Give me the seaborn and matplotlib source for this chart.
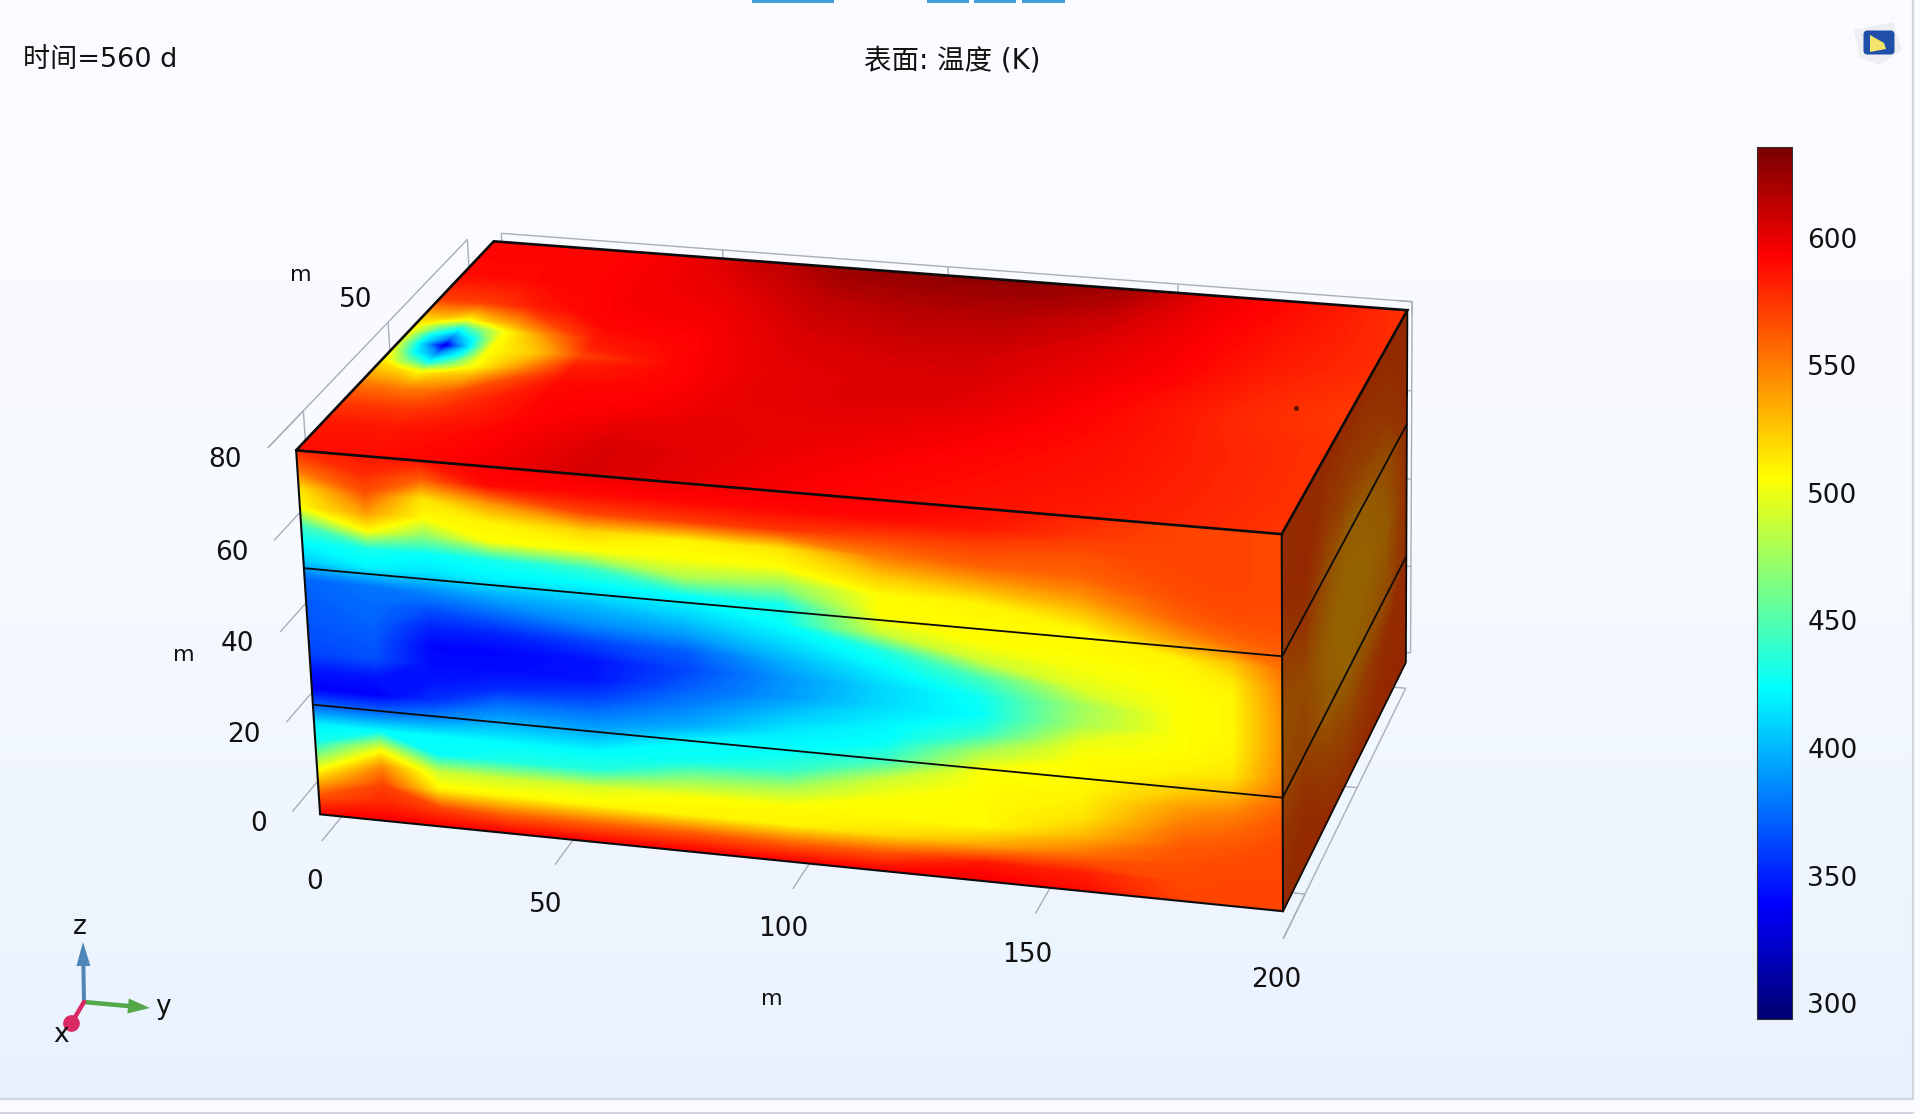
import numpy as np
import pandas as pd
import matplotlib
matplotlib.use("Agg")
import matplotlib.pyplot as plt
from matplotlib.colors import LinearSegmentedColormap, Normalize
from matplotlib.patches import FancyBboxPatch, Polygon, Rectangle, FancyArrow
import seaborn as sns

# ---------- data ----------
T_MIN, T_MAX = 293.8, 635.5
cbar_ticks = [300, 350, 400, 450, 500, 550, 600]
cmap_values = [293.8, 339, 423.5, 506, 593, 635.5]
cmap_colors = ["#000070", "#0000ff", "#00ffff", "#ffff00", "#ff0000", "#780000"]

box_x, box_y, box_z = 120.0, 200.0, 80.0
layer_z = [24.5, 54.5]
y_ticks = [0, 50, 100, 150, 200]
z_ticks = [0, 20, 40, 60, 80]
x_ticks = [0, 50, 100]

# front face (x = box_x): one list per y, values from z=80 down to z=0
front_y = [0, 14, 26, 40, 60, 80, 100, 120, 140, 160, 180, 190, 200]
front_z = [80, 76, 72, 68, 64, 60, 56, 52, 48, 44, 40, 36, 32, 28, 24, 20, 16, 12, 8, 4, 0]
front_cols = [
    [578, 555, 515, 507, 445, 423, 405, 372, 370, 368, 365, 362, 345, 338, 375, 420, 430, 480, 525, 565, 592],
    [585, 578, 565, 540, 507, 430, 420, 378, 375, 372, 368, 365, 345, 338, 375, 423, 500, 545, 570, 580, 595],
    [585, 560, 515, 507, 470, 425, 415, 385, 365, 350, 340, 342, 345, 355, 385, 423, 425, 490, 512, 570, 594],
    [594, 590, 540, 510, 505, 430, 420, 395, 372, 350, 340, 342, 352, 378, 400, 423, 432, 490, 510, 560, 594],
    [597, 590, 570, 520, 505, 440, 420, 400, 385, 360, 345, 345, 360, 380, 398, 423, 435, 495, 510, 560, 594],
    [597, 590, 572, 510, 505, 480, 425, 410, 392, 370, 362, 370, 382, 395, 423, 428, 470, 505, 510, 563, 594],
    [595, 590, 575, 515, 505, 470, 430, 425, 412, 398, 388, 390, 405, 418, 425, 440, 480, 507, 510, 560, 594],
    [594, 590, 570, 550, 525, 507, 507, 490, 432, 420, 410, 412, 420, 425, 445, 490, 505, 507, 518, 565, 594],
    [590, 585, 570, 560, 535, 510, 507, 507, 490, 445, 428, 425, 440, 480, 505, 507, 507, 507, 535, 585, 596],
    [580, 575, 565, 560, 545, 525, 507, 507, 503, 495, 475, 478, 500, 507, 507, 510, 515, 530, 555, 582, 590],
    [570, 570, 570, 568, 565, 558, 540, 510, 507, 506, 506, 506, 506, 510, 522, 540, 552, 562, 566, 568, 570],
    [570, 570, 570, 570, 568, 565, 555, 525, 512, 508, 508, 508, 510, 515, 530, 548, 558, 565, 568, 570, 570],
    [568, 568, 568, 568, 567, 566, 562, 555, 548, 545, 543, 543, 545, 548, 555, 562, 566, 568, 569, 570, 570],
]

# top face (z = box_z): one list per x, values along top_y
top_x = [0, 20, 35, 45, 50, 55, 60, 65, 70, 75, 85, 95, 105, 120]
top_y = [0, 5, 10, 15, 20, 30, 40, 60, 80, 100, 120, 140, 160, 180, 200]
top_rows = [
    [592, 592, 592, 592, 592, 592, 595, 610, 625, 628, 628, 622, 598, 588, 576],
    [590, 590, 590, 590, 592, 592, 595, 600, 612, 616, 616, 608, 595, 586, 578],
    [572, 572, 572, 575, 582, 590, 594, 595, 606, 610, 610, 602, 594, 584, 578],
    [525, 525, 505, 525, 538, 572, 590, 593, 603, 606, 606, 600, 593, 582, 576],
    [510, 470, 430, 470, 505, 550, 586, 592, 602, 605, 606, 599, 592, 581, 575],
    [505, 425, 385, 430, 505, 535, 582, 592, 601, 604, 605, 598, 590, 580, 574],
    [495, 410, 325, 410, 505, 525, 570, 591, 600, 603, 604, 597, 589, 579, 574],
    [505, 425, 385, 430, 505, 535, 582, 591, 600, 603, 603, 596, 588, 579, 574],
    [512, 470, 430, 470, 505, 550, 586, 591, 600, 603, 602, 595, 588, 579, 575],
    [525, 520, 505, 520, 528, 568, 590, 592, 600, 602, 600, 594, 588, 580, 576],
    [555, 555, 552, 555, 565, 582, 592, 594, 600, 600, 597, 592, 587, 581, 576],
    [575, 575, 575, 575, 578, 585, 592, 600, 601, 598, 594, 590, 587, 581, 576],
    [585, 585, 585, 585, 587, 590, 594, 605, 601, 596, 592, 589, 586, 581, 576],
    [588, 590, 590, 590, 590, 592, 596, 606, 600, 594, 590, 587, 584, 580, 575],
]

# right face (y = box_y): one list per z, values along right_x
right_x = [0, 20, 40, 60, 80, 100, 120]
right_z = [80, 65, 55, 40, 25, 15, 0]
right_rows = [
    [568, 568, 568, 568, 568, 568, 568],
    [568, 562, 558, 556, 560, 570, 566],
    [566, 548, 540, 538, 548, 565, 558],
    [565, 540, 536, 534, 538, 550, 545],
    [566, 548, 540, 536, 540, 555, 552],
    [568, 566, 558, 550, 555, 565, 562],
    [570, 570, 568, 566, 568, 570, 568],
]

hot_point = (57.0, 189.0, 80.0)

# ---------- camera: box corners (x, y, z) and where they appear in the image ----------
cam_world = np.array([[box_x, 0, box_z], [box_x, box_y, box_z], [box_x, box_y, 0], [box_x, 0, 0],
                      [0, 0, box_z], [0, box_y, box_z], [0, box_y, 0]], float)
cam_image = np.array([[296, 451], [1282, 534], [1283, 911], [320, 814],
                      [494, 241], [1407, 310], [1406, 663]], float)


def fit_camera(world, image):
    rows, rhs = [], []
    for (X, Y, Z), (u, v) in zip(world, image):
        rows.append([X, Y, Z, 1, 0, 0, 0, 0, -u * X, -u * Y, -u * Z])
        rhs.append(u)
        rows.append([0, 0, 0, 0, X, Y, Z, 1, -v * X, -v * Y, -v * Z])
        rhs.append(v)
    p = np.linalg.lstsq(np.array(rows), np.array(rhs), rcond=None)[0]
    return np.append(p, 1).reshape(3, 4)


CAM = fit_camera(cam_world, cam_image)


def project(x, y, z):
    x, y, z = np.broadcast_arrays(np.asarray(x, float), np.asarray(y, float), np.asarray(z, float))
    h = np.stack([x, y, z, np.ones_like(x)], axis=-1) @ CAM.T
    return h[..., 0] / h[..., 2], h[..., 1] / h[..., 2]


# ---------- figure ----------
sns.set_theme(style="white")
plt.rcParams["font.family"] = ["DejaVu Sans", "Noto Sans CJK SC"]
TXT = "#111111"
fig = plt.figure(figsize=(19.2, 11.14), dpi=100)
ax = fig.add_axes([0, 0, 1, 1])
ax.set_xlim(0, 1920)
ax.set_ylim(1114, 0)
ax.axis("off")

# panel background
bg = LinearSegmentedColormap.from_list("bg", ["#fbfcff", "#f7faff", "#e8f2fe"])
ax.imshow(np.linspace(0, 1, 256).reshape(-1, 1), extent=(0, 1913, 1098, 0), aspect="auto", cmap=bg,
          vmin=0, vmax=1, zorder=0)
ax.set_xlim(0, 1920)
ax.set_ylim(1114, 0)
ax.add_patch(Rectangle((0, 1098), 1920, 14, fc="#fafbfe", ec="none", zorder=0.5))
ax.add_patch(Rectangle((1913, 0), 7, 1114, fc="#fafbfe", ec="none", zorder=0.5))
ax.plot([0, 1913, 1913], [1098.5, 1098.5, 0], color="#cfd4de", lw=1.6, zorder=1)
ax.plot([0, 1913], [1112.5, 1112.5], color="#cfd4de", lw=1.6, zorder=1)

# top toolbar remnants
for x0, x1 in [(752, 834), (927, 969), (974, 1016), (1022, 1065)]:
    ax.add_patch(Rectangle((x0, -2), x1 - x0, 4.5, fc="#3fa0d8", ec="none", zorder=1))

# logo
ax.add_patch(Polygon([(1854, 30), (1893, 22), (1902, 50), (1880, 65), (1860, 58)], fc="#eceef2", ec="none", zorder=1))
ax.add_patch(FancyBboxPatch((1865, 32), 28, 21, boxstyle="round,pad=1.5,rounding_size=4", fc="#1f4fa8", ec="none", zorder=2))
ax.add_patch(Polygon([(1870, 35), (1884, 43), (1886, 49), (1870, 52)], fc="#f2e468", ec="none", zorder=3))

# wireframe behind the box
WIRE = "#a9aeb8"


def wire(p, q, z=2):
    xs, ys = project([p[0], q[0]], [p[1], q[1]], [p[2], q[2]])
    ax.plot(xs, ys, color=WIRE, lw=1.0, zorder=z, solid_capstyle="butt")


m_y, m_z, m_x = -6.0, -6.0, -5.0
wire((box_x, m_y, box_z), (0, m_y, box_z))
wire((m_x, 0, box_z), (m_x, box_y, box_z))
wire((m_x, box_y, box_z), (m_x, box_y, 0))
wire((box_x, box_y, m_z), (0, box_y, m_z))
for xv in x_ticks:
    wire((xv, m_y, box_z), (xv, m_y, box_z - 7))
    wire((xv, box_y, m_z), (xv, box_y - 4, m_z))
for zv in z_ticks:
    wire((box_x, m_y, zv), (box_x - 20, m_y, zv))
    wire((m_x, box_y, zv), (m_x, box_y - 3, zv))
for yv in y_ticks:
    wire((box_x, yv, m_z), (box_x - 20, yv, m_z))
    wire((m_x, yv, box_z), (m_x, yv, box_z - 3))

# box faces
cmap = LinearSegmentedColormap.from_list(
    "thermal", [((v - T_MIN) / (T_MAX - T_MIN), c) for v, c in zip(cmap_values, cmap_colors)], N=512)
norm = Normalize(T_MIN, T_MAX)
levels = np.linspace(T_MIN, T_MAX, 300)


def face(px, py, values):
    ax.contourf(px, py, np.asarray(values, float), levels=levels, cmap=cmap, norm=norm,
                extend="both", antialiased=False, zorder=3)


Y, Z = np.meshgrid(front_y, front_z)
fx, fy = project(box_x, Y, Z)
face(fx, fy, np.array(front_cols).T)

X, Y = np.meshgrid(top_x, top_y, indexing="ij")
tx, ty = project(X, Y, box_z)
face(tx, ty, top_rows)

X, Z = np.meshgrid(right_x, right_z)
rx, ry = project(X, box_y, Z)
face(rx, ry, right_rows)
# the right face sits in shade
cx, cy = project([box_x, 0, 0, box_x], box_y, [box_z, box_z, 0, 0])
ax.add_patch(Polygon(np.c_[cx, cy], fc="black", alpha=0.42, ec="none", zorder=4))

# edges
EDGE = "#0c0c0c"


def edge(points, lw=1.8):
    pts = np.array(points, float)
    xs, ys = project(pts[:, 0], pts[:, 1], pts[:, 2])
    ax.plot(xs, ys, color=EDGE, lw=lw, zorder=5, solid_joinstyle="miter")


edge([(box_x, 0, box_z), (0, 0, box_z), (0, box_y, box_z), (box_x, box_y, box_z), (box_x, 0, box_z)], 1.9)
edge([(box_x, 0, box_z), (box_x, 0, 0), (box_x, box_y, 0), (box_x, box_y, box_z)], 1.5)
edge([(box_x, box_y, 0), (0, box_y, 0), (0, box_y, box_z)], 1.3)
for zv in layer_z:
    edge([(box_x, 0, zv), (box_x, box_y, zv), (0, box_y, zv)], 1.3)

hx, hy = project(*hot_point)
ax.plot([hx], [hy], marker="o", ms=2.5, color="#551100", zorder=5)

# axis text
FS = 19
for s, x, y in [("80", 225, 460), ("60", 232, 553), ("40", 237, 644), ("20", 244, 735), ("0", 259, 824),
                ("50", 356, 300), ("0", 315, 882), ("50", 546, 905), ("100", 783, 929),
                ("150", 1027, 955), ("200", 1276, 980)]:
    ax.text(x, y, s, ha="center", va="center", fontsize=FS, color=TXT, zorder=6)
for x, y in [(301, 275), (184, 655), (772, 999)]:
    ax.text(x, y, "m", ha="center", va="center", fontsize=16, color=TXT, zorder=6)
ax.text(23, 60, "时间=560 d", ha="left", va="center", fontsize=19.5, color=TXT, zorder=6)
ax.text(952, 60, "表面: 温度 (K)", ha="center", va="center", fontsize=19.8, color=TXT, zorder=6)

# orientation triad
ax.add_patch(FancyArrow(84, 1002, -1, -60, width=4, head_width=14, head_length=24,
                        length_includes_head=True, fc="#4f86b8", ec="none", zorder=6))
ax.add_patch(FancyArrow(84, 1002, 66, 6, width=4.5, head_width=15, head_length=22,
                        length_includes_head=True, fc="#55a84a", ec="none", zorder=6))
ax.plot([84, 71], [1002, 1024], color="#d92a63", lw=3.2, zorder=6)
ax.plot([71], [1023], marker="o", ms=11, color="#d92a63", zorder=6)
ax.text(80, 927, "z", ha="center", va="center", fontsize=FS, color=TXT, zorder=7)
ax.text(163, 1007, "y", ha="center", va="center", fontsize=FS, color=TXT, zorder=7)
ax.text(61, 1035, "x", ha="center", va="center", fontsize=FS, color=TXT, zorder=7)

# colour bar
bar_top, bar_bot, bar_l, bar_r = 147, 1019, 1757, 1792
cax = fig.add_axes([bar_l / 1920, 1 - bar_bot / 1114, (bar_r - bar_l) / 1920, (bar_bot - bar_top) / 1114])
bar_vals = np.linspace(T_MAX, T_MIN, 512)
sns.heatmap(pd.DataFrame(bar_vals.reshape(-1, 1)), ax=cax, cmap=cmap, vmin=T_MIN, vmax=T_MAX, cbar=False,
            xticklabels=False, yticklabels=False)
cax.set_xlabel("")
cax.set_ylabel("")
cax.set_yticks([(T_MAX - v) / (T_MAX - T_MIN) * len(bar_vals) for v in cbar_ticks])
cax.set_yticklabels([str(v) for v in cbar_ticks], fontsize=FS, color=TXT, rotation=0)
cax.yaxis.tick_right()
cax.tick_params(axis="y", left=True, right=True, direction="in", length=5.8, width=0.8, color="#222222", pad=11)
for sp in cax.spines.values():
    sp.set_visible(True)
    sp.set_linewidth(0.8)
    sp.set_color("#333333")

fig.savefig("out.png", dpi=100)
